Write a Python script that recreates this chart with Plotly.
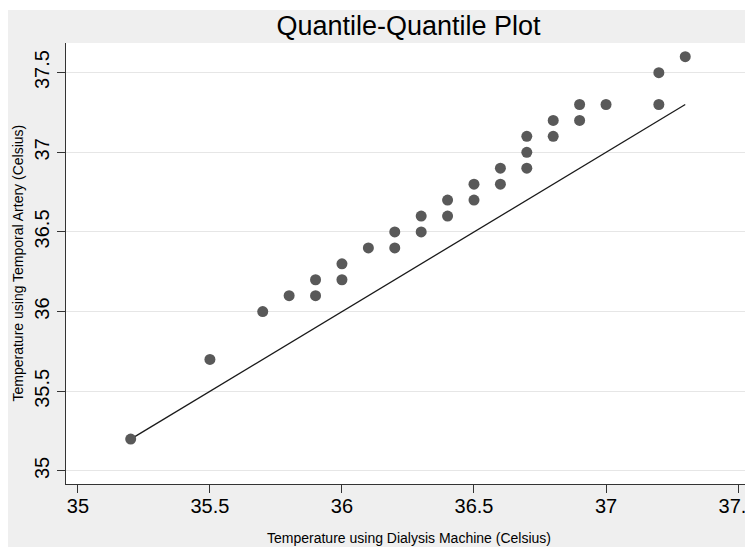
import plotly.graph_objects as go

# Sorted quantiles
dialysis = [35.2, 35.5, 35.7, 35.8, 35.9, 35.9, 36.0, 36.0, 36.1, 36.2,
            36.2, 36.3, 36.3, 36.4, 36.4, 36.5, 36.5, 36.6, 36.6, 36.7,
            36.7, 36.7, 36.8, 36.8, 36.9, 36.9, 37.0, 37.2, 37.2, 37.3]
temporal = [35.2, 35.7, 36.0, 36.1, 36.1, 36.2, 36.2, 36.3, 36.4, 36.4,
            36.5, 36.5, 36.6, 36.6, 36.7, 36.7, 36.8, 36.8, 36.9, 36.9,
            37.0, 37.1, 37.1, 37.2, 37.2, 37.3, 37.3, 37.3, 37.5, 37.6]
x_ticks = [35, 35.5, 36, 36.5, 37, 37.5]
y_ticks = [35, 35.5, 36, 36.5, 37, 37.5]
x_tick_labels = ["35", "35.5", "36", "36.5", "37", "37.5"]
y_tick_labels = ["35", "35.5", "36", "36.5", "37", "37.5"]

# The page has an 8px body margin; the figure runs slightly past the
# window's right edge, as in the reference (where 37.5 is cut by the edge).
W, H = 760, 539
ML, MR, MT, MB = 58, 17, 35, 63
PW, PH = W - ML - MR, H - MT - MB
FONT = "Liberation Sans, Arial, sans-serif"

line_x = [min(dialysis), max(dialysis)]

fig = go.Figure()
fig.add_trace(go.Scatter(
    x=line_x, y=line_x, mode="lines",
    line=dict(color="#1a1a1a", width=1.3), hoverinfo="skip", showlegend=False))
fig.add_trace(go.Scatter(
    x=dialysis, y=temporal, mode="markers",
    marker=dict(color="#595959", size=11, line=dict(width=0)), showlegend=False))

# thin white strip so the grey band starts 2px lower, like the reference
fig.add_shape(type="rect", xref="paper", yref="paper",
              x0=-ML / PW - 0.01, x1=1 + MR / PW + 0.01,
              y0=1 + (MT - 2) / PH, y1=1 + MT / PH + 0.01,
              fillcolor="white", line=dict(width=0), layer="above")

fig.add_annotation(text="Temperature using Dialysis Machine (Celsius)",
                   xref="paper", yref="paper", x=0.5, y=-(530 - (MT + PH)) / PH,
                   xanchor="center", yanchor="middle", showarrow=False,
                   font=dict(size=14, family=FONT, color="black"))
fig.add_annotation(text="Temperature using Temporal Artery (Celsius)",
                   xref="paper", yref="paper", x=(9 - ML) / PW, y=0.5,
                   xanchor="center", yanchor="middle", showarrow=False, textangle=-90,
                   font=dict(size=14, family=FONT, color="black"))

fig.update_layout(
    width=W, height=H,
    margin=dict(l=ML, r=MR, t=MT, b=MB, pad=0),
    paper_bgcolor="#efefef", plot_bgcolor="white",
    font=dict(family=FONT, color="black"),
    title=dict(text="Quantile-Quantile Plot", x=(ML + PW / 2) / W, xanchor="center",
               y=1 - 18 / H, yanchor="middle", yref="container",
               font=dict(size=27, family=FONT, color="black")),
    xaxis=dict(range=[34.955, 37.549], tickvals=x_ticks, ticktext=x_tick_labels,
               showgrid=False, zeroline=False, showline=True, linecolor="#333333",
               linewidth=1.3, ticks="outside", ticklen=8, tickcolor="#333333",
               tickfont=dict(size=20), automargin=False,
               ticklabeloverflow="allow", ticklabelstandoff=-4),
    yaxis=dict(range=[34.918, 37.686], tickvals=y_ticks, ticktext=y_tick_labels,
               showgrid=True, gridcolor="#e6e6e6", gridwidth=1,
               zeroline=False, showline=True, linecolor="#333333",
               linewidth=1.3, ticks="outside", ticklen=8, tickcolor="#333333",
               tickangle=-90, tickfont=dict(size=20), automargin=False),
)

fig.write_html("out.html")
